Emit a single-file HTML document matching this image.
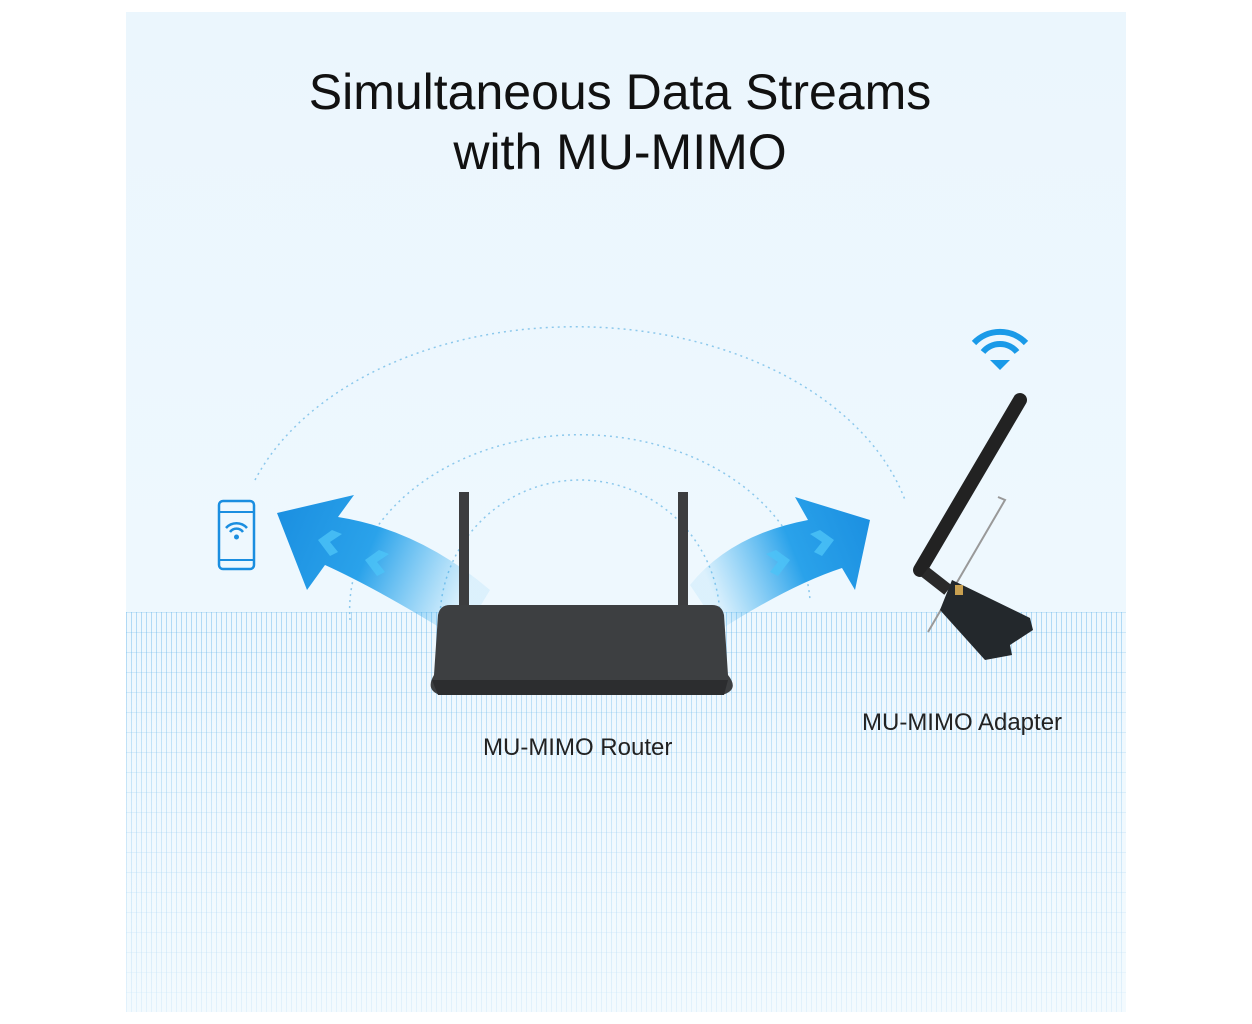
<!DOCTYPE html>
<html><head><meta charset="utf-8"><style>
body{margin:0;width:1252px;height:1024px;background:#fff;overflow:hidden;font-family:"Liberation Sans",sans-serif}
#p{position:absolute;left:126px;top:12px;width:1000px;height:1000px;background:linear-gradient(#ebf6fd,#eef8fe 60%,#f3fafe)}
#grid{position:absolute;left:126px;top:612px;width:1000px;height:400px;
background:repeating-linear-gradient(0deg,transparent 0 19px,rgba(100,180,230,.25) 19px 20px),repeating-linear-gradient(90deg,rgba(100,180,235,.45) 0 1px,transparent 1px 5px);
-webkit-mask-image:linear-gradient(rgba(0,0,0,1),rgba(0,0,0,.6) 50%,rgba(0,0,0,.25));}
.t{position:absolute;width:1252px;text-align:center;color:#111;font-size:50px;left:-6px}
.l{position:absolute;font-size:24px;color:#222}
</style></head><body>
<div id="p"></div><div id="grid"></div>
<div class="t" style="top:63px">Simultaneous Data Streams</div>
<div class="t" style="top:123px">with MU-MIMO</div>
<svg width="1252" height="1024" style="position:absolute;left:0;top:0">
<defs>
<linearGradient id="gl" x1="0" y1="0" x2="1" y2="0.3"><stop offset="0" stop-color="#1a8ee0"/><stop offset=".5" stop-color="#2aa2ea"/><stop offset="1" stop-color="#3ab0f0" stop-opacity="0.1"/></linearGradient>
<linearGradient id="gr" x1="1" y1="0" x2="0" y2="0.3"><stop offset="0" stop-color="#1a8ee0"/><stop offset=".5" stop-color="#2aa2ea"/><stop offset="1" stop-color="#3ab0f0" stop-opacity="0.1"/></linearGradient>
</defs>
<g fill="none" stroke="#8cc8ec" stroke-width="1.5" stroke-dasharray="2 4">
<path d="M440 620 A140 140 0 0 1 720 620"/>
<path d="M350 620 A230 175 0 0 1 810 600"/>
<path d="M255 480 A340 230 0 0 1 905 500"/>
</g>
<path d="M277 513 L354 495 L338 517 Q420 530 490 590 L460 640 Q380 590 325 565 L307 590 Z" fill="url(#gl)"/>
<path d="M870 520 L795 497 L808 520 Q730 535 690 585 L720 630 Q790 585 842 568 L855 590 Z" fill="url(#gr)"/>
<g fill="#4cc4f8" opacity=".8">
<path d="M318 540 l14 -10 l10 4 l-12 8 l8 10 l-8 4 Z"/><path d="M365 560 l14 -10 l10 4 l-12 8 l8 10 l-8 4 Z"/>
<path d="M834 540 l-14 -10 l-10 4 l12 8 l-8 10 l8 4 Z"/><path d="M790 560 l-14 -10 l-10 4 l12 8 l-8 10 l8 4 Z"/>
</g>
<rect x="459" y="492" width="10" height="115" fill="#3c3d3f"/>
<rect x="678" y="492" width="10" height="115" fill="#3c3d3f"/>
<path d="M450 605 L712 605 Q722 605 724 615 L728 675 Q740 690 722 695 L440 695 Q425 690 434 675 L438 615 Q440 605 450 605Z" fill="#3d3f41"/>
<path d="M432 680 L728 680 L724 695 L438 695Z" fill="#2c2d2f"/>
<rect x="219" y="501" width="35" height="68" rx="4" fill="none" stroke="#1a8ee0" stroke-width="2.5"/>
<line x1="219" y1="512" x2="254" y2="512" stroke="#1a8ee0" stroke-width="2"/><line x1="219" y1="560" x2="254" y2="560" stroke="#1a8ee0" stroke-width="2"/>
<g fill="none" stroke="#1a8ee0" stroke-width="2.5"><path d="M226 528 a14 14 0 0 1 21 0"/><path d="M230 532 a8 8 0 0 1 13 0"/></g>
<circle cx="236.5" cy="537" r="2.5" fill="#1a8ee0"/>
<g fill="none" stroke="#1a9ae8" stroke-width="6"><path d="M974 343 a36 36 0 0 1 52 0"/><path d="M983 352 a22 22 0 0 1 34 0"/></g>
<path d="M990 360 L1010 360 L1000 370Z" fill="#1a9ae8"/>
<path d="M998 497 L1005 500 L928 632" fill="none" stroke="#999" stroke-width="2"/>
<path d="M952 580 L1030 618 L1033 630 L1010 645 L1012 655 L985 660 L940 610Z" fill="#23282c"/>
<rect x="955" y="585" width="8" height="10" fill="#c8a050"/>
<line x1="1020" y1="400" x2="920" y2="570" stroke="#222" stroke-width="14" stroke-linecap="round"/>
<line x1="925" y1="572" x2="948" y2="590" stroke="#2a2a2a" stroke-width="12"/>
</svg>
<div class="l" style="left:483px;top:734px">MU-MIMO Router</div>
<div class="l" style="left:862px;top:709px">MU-MIMO Adapter</div>
</body></html>
